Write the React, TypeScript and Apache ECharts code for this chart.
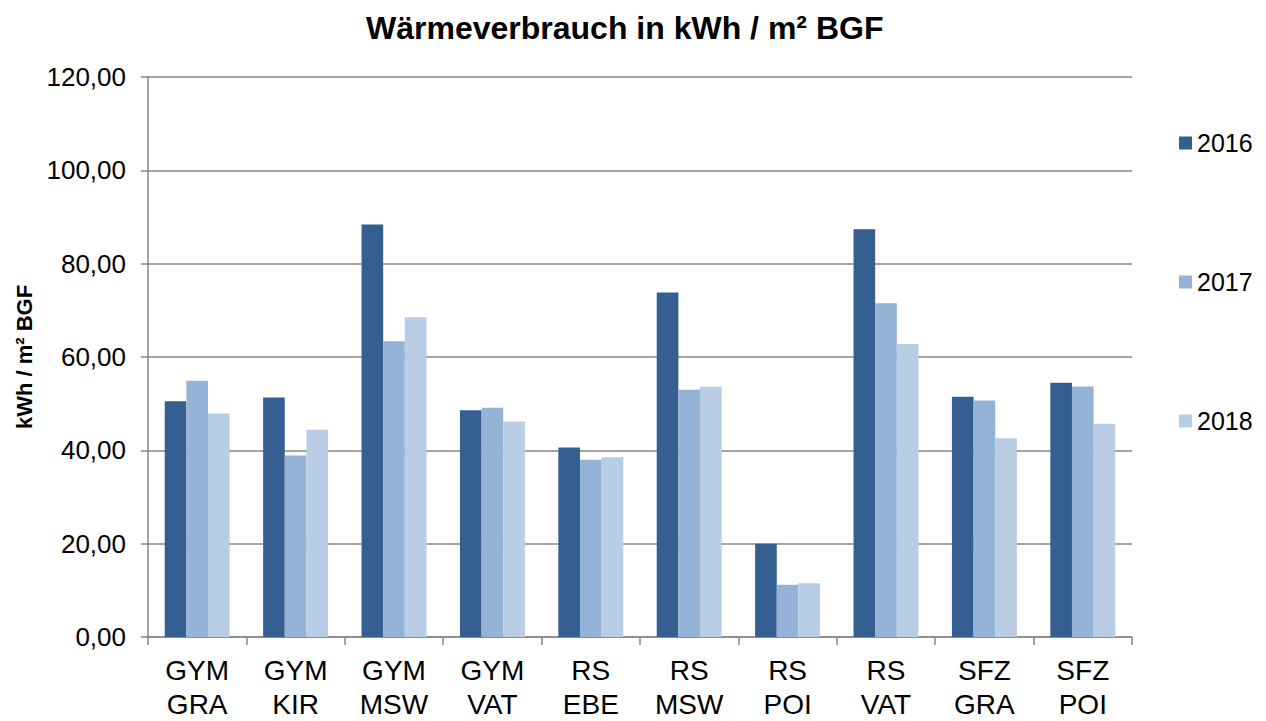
import React, { useEffect, useRef } from "react";
import * as echarts from "echarts";

const categories = [
  "GYM\nGRA",
  "GYM\nKIR",
  "GYM\nMSW",
  "GYM\nVAT",
  "RS\nEBE",
  "RS\nMSW",
  "RS\nPOI",
  "RS\nVAT",
  "SFZ\nGRA",
  "SFZ\nPOI",
];
const seriesNames = ["2016", "2017", "2018"];
const values2016 = [50.5, 51.3, 88.4, 48.6, 40.6, 73.8, 20.0, 87.4, 51.5, 54.5];
const values2017 = [54.9, 38.9, 63.4, 49.1, 38.0, 53.0, 11.2, 71.5, 50.7, 53.7];
const values2018 = [47.9, 44.4, 68.5, 46.2, 38.5, 53.6, 11.5, 62.8, 42.6, 45.7];
const colors = ["#365f91", "#95b3d7", "#b9cde5"];

const FONT = "'Liberation Sans', Arial, sans-serif";

export default function App() {
  const ref = useRef<HTMLDivElement>(null);
  useEffect(() => {
    if (!ref.current) return;
    const chart = echarts.init(ref.current, null, { renderer: "svg" });
    const data = [values2016, values2017, values2018];
    chart.setOption({
      animation: false,
      backgroundColor: "#ffffff",
      textStyle: { fontFamily: FONT },
      title: {
        text: "Wärmeverbrauch in kWh / m² BGF",
        left: 361,
        top: 7,
        textStyle: { fontSize: 32, fontWeight: "bold", color: "#000", fontFamily: FONT },
      },
      legend: {
        orient: "vertical",
        left: 1174,
        top: 124,
        itemWidth: 13,
        itemHeight: 13,
        itemGap: 111,
        icon: "rect",
        data: seriesNames,
        textStyle: { fontSize: 25, color: "#000", lineHeight: 28, fontFamily: FONT },
      },
      grid: { left: 148, top: 77, width: 984, height: 564 },
      xAxis: {
        type: "category",
        data: categories,
        axisLine: { lineStyle: { color: "#868686", width: 1.5 } },
        axisTick: { show: true, length: 8, lineStyle: { color: "#868686", width: 1.5 } },
        axisLabel: {
          fontSize: 28,
          lineHeight: 34,
          color: "#000",
          margin: 16,
          interval: 0,
          fontFamily: FONT,
        },
      },
      yAxis: {
        type: "value",
        min: 0,
        max: 120,
        interval: 20,
        name: "kWh / m² BGF",
        nameLocation: "middle",
        nameGap: 112,
        nameRotate: 90,
        nameTextStyle: { fontSize: 22, fontWeight: "bold", color: "#000", fontFamily: FONT },
        axisLine: { show: true, lineStyle: { color: "#868686", width: 1.5 } },
        axisTick: { show: true, length: 7, lineStyle: { color: "#868686", width: 1.5 } },
        splitLine: { show: true, lineStyle: { color: "#868686", width: 1.5 } },
        axisLabel: {
          fontSize: 26,
          color: "#000",
          margin: 22,
          fontFamily: FONT,
          formatter: (v: number) => v.toFixed(2).replace(".", ","),
        },
      },
      series: seriesNames.map((name, i) => ({
        name,
        type: "bar",
        data: data[i],
        barGap: "0%",
        barCategoryGap: "34%",
        itemStyle: { color: colors[i] },
      })),
    });
    return () => chart.dispose();
  }, []);
  return (
    <div
      ref={ref}
      style={{ position: "absolute", left: 0, top: 0, width: 1266, height: 721 }}
    />
  );
}
